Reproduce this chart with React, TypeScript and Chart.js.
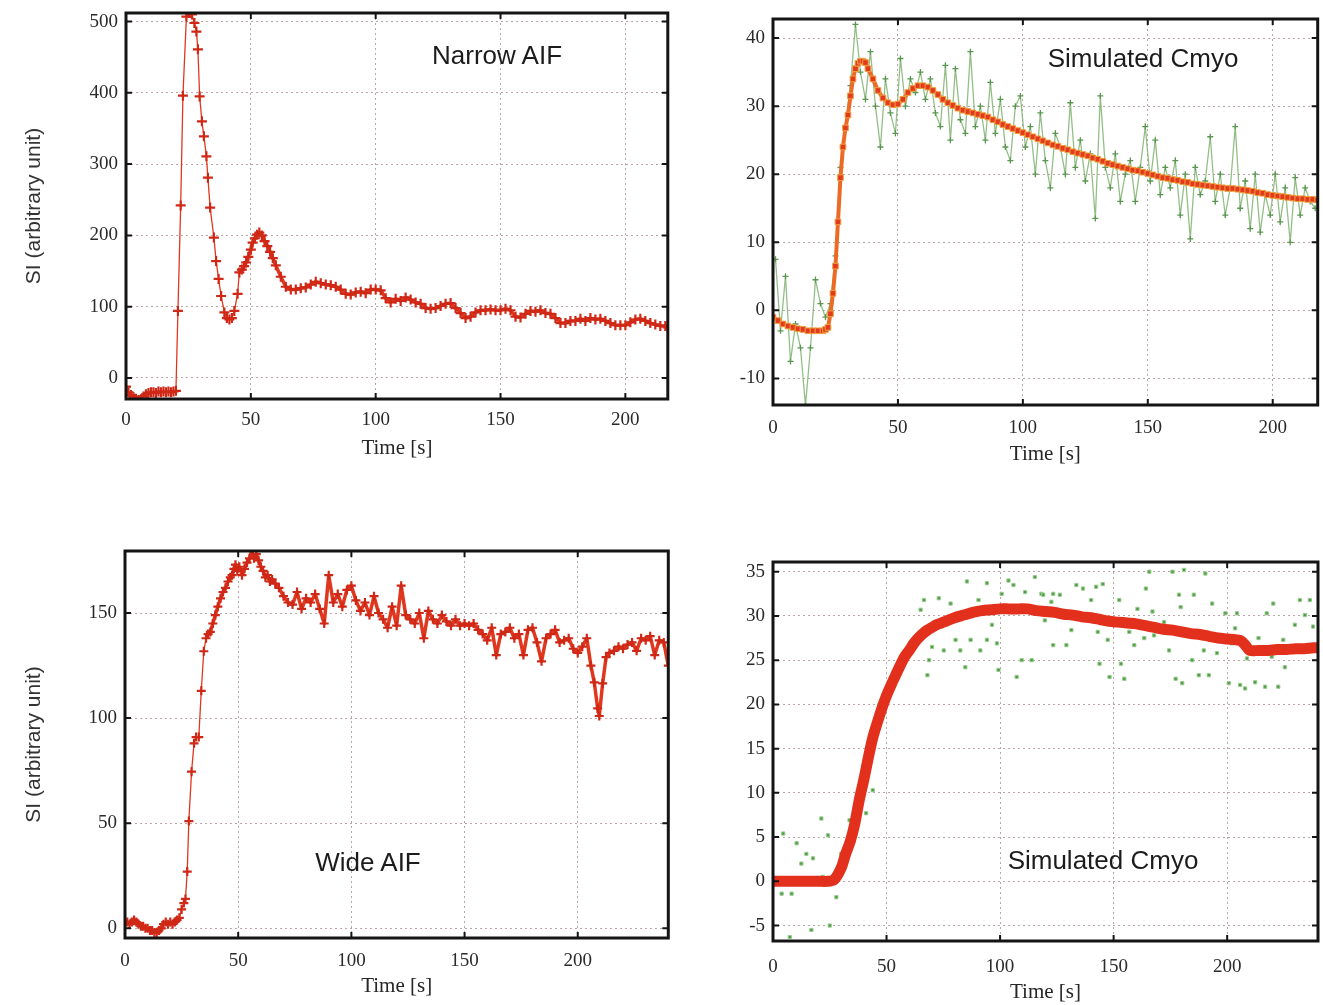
import React, { useEffect, useRef } from "react";
import { Chart, registerables } from "chart.js";

Chart.register(...registerables);

// ---------------- Data ----------------
// Panel 1: Narrow AIF
const P1_T = [0,1,2,3,4,5,6,7,8,9,10,11,12,13,14,15,16,17,18,19,20,
  20.8,21.9,22.8,24.2,25.3,26.4,27.4,28.2,28.8,29.5,30.4,31.2,32.2,32.8,33.7,35.2,36.1,37.1,38.1,39.4,
  40.4,41.4,42.4,43.4,44.7,45.4,46.4,47.3,48.1,49,50,50.7,51.6,52.5,53.4,54.4,55.5,56.6,57.7,58.8,
  60,62,64,66,68,70,72,74,76,78,80,82,84,86,88,90,92,94,96,98,100,102,104,106,108,110,112,114,116,118,
  120,122,124,126,128,130,132,134,136,138,140,142,144,146,148,150,152,154,156,158,160,162,164,166,168,
  170,172,174,176,178,180,182,184,186,188,190,192,194,196,198,200,202,204,206,208,210,212,214,216,217];
const P1_V = [-12,-20,-24,-27,-29,-31,-30,-26,-23,-21,-20,-20,-21,-19,-20,-19,-20,-19,-20,-19,-18,
  94,242,396,507,512,510,498,486,461,395,360,339,311,281,239,197,164,139,115,92,
  84,82,84,94,118,148,152,157,162,170,180,190,196,201,204,200,192,185,177,168,
  158,142,128,124,124,126,127,131,135,133,131,130,128,124,118,117,120,121,119,124,
  124,123,112,106,111,108,113,110,106,104,98,97,98,101,104,105,98,91,84,86,
  92,95,95,96,95,95,97,95,86,85,90,94,93,95,91,90,84,77,77,80,
  80,83,80,84,82,83,80,77,74,74,74,78,82,83,80,77,75,73,73,71];

// Panel 2: Simulated Cmyo (narrow) - model (red) and noisy (green)
const P2_RED_T = [0,2,4,6,8,10,12,14,16,18,20,21,22,23,24,25,26,27,28,29,30,31,32,33,34,35,36,37,38,
  40,42,44,46,48,50,52,54,56,58,60,62,64,66,68,70,72,74,76,78,80,82,84,86,88,90,92,94,96,98,
  100,102,104,106,108,110,112,114,116,118,120,122,124,126,128,130,132,134,136,138,140,142,144,146,148,
  150,152,154,156,158,160,162,164,166,168,170,172,174,176,178,180,182,184,186,188,190,192,194,196,198,
  200,202,204,206,208,210,212,214,216,218];
const P2_RED_V = [-1,-1.5,-2,-2.3,-2.5,-2.7,-2.8,-3,-3,-3,-3,-2.8,-2.5,-0.5,2.5,6.5,13,19.5,24,26.8,28.7,31.5,34,35.5,36.3,36.6,36.6,36.4,35.5,
  34,32.3,31.2,30.5,30.2,30.3,31,32,32.6,33,33,32.8,32.3,31.7,31,30.5,30.1,29.7,29.4,29.2,29,28.8,28.6,28.4,28,27.7,27.3,27,26.7,26.4,
  26.1,25.8,25.5,25.2,24.9,24.6,24.3,24.1,23.8,23.6,23.3,23.1,22.9,22.7,22.4,22.2,21.9,21.6,21.4,21.2,21,20.8,20.6,20.5,20.3,
  20.1,19.9,19.7,19.5,19.4,19.2,19.1,18.9,18.8,18.6,18.5,18.4,18.3,18.2,18.1,18,17.9,17.9,17.8,17.7,17.6,17.5,17.3,17.2,17,
  16.9,16.8,16.7,16.6,16.5,16.4,16.4,16.3,16.3,16.2];
const P2_GREEN_T = [1,3,5,7,9,11,13,15,17,19,21,23,25,27,29,31,33,35,37,39,41,43,45,47,49,51,53,55,57,59,
  61,63,65,67,69,71,73,75,77,79,81,83,85,87,89,91,93,95,97,99,101,103,105,107,109,111,113,115,117,119,
  121,123,125,127,129,131,133,135,137,139,141,143,145,147,149,151,153,155,157,159,161,163,165,167,169,
  171,173,175,177,179,181,183,185,187,189,191,193,195,197,199,201,203,205,207,209,211,213,215,217];
const P2_GREEN_V = [7.5,-3,5,-7.5,-2,-5.5,-14,-5.5,4.5,1,-1,1,8,21,27,33,42,35,31,38,
  30,24,34,29,26,37,30,34,32,35,31,34,29,27,36,25,35.5,28,26,38,
  27,30,25,33.5,26,31,24,22,30,31.5,24,27,20,29,22,18,26,24,20,30.5,
  21,25,19,23,13.5,31.5,21,18,23,16,20,22,16,21,27,19,25,17,21,18,
  22,14,20,10.5,21,17,19,25.5,16,20,14,18,27,15,19,12,20,11.5,17,14,
  20,13,18,10,19.5,14,18,16,15];

// Panel 3: Wide AIF
const P3_T = [0,1,2,3,4,5,6,7,8,9,10,11,12,13,14,15,16,17,18,19,20,21,22,23,24,25,26,
  26.7,27.5,28.2,29.4,30.5,31.4,32.6,33.7,34.8,35.8,36.7,37.7,38.8,39.9,41,42.2,43.3,44.4,45.5,46.5,
  47.3,48.1,48.8,49.6,50.5,51.7,52.8,53.9,55,56,57,58,59,60,61,62,63,64,65,66.4,
  68,70,72,74,76,78,80,82,84,86,88,90,92,94,96,98,100,102,104,106,108,110,112,114,116,118,120,122,124,126,
  128,130,132,134,136,138,140,142,144,146,148,150,152,154,156,158,160,162,164,166,168,170,172,174,176,178,
  180,182,184,186,188,190,192,194,196,198,200,202,204,205.8,207.3,208.8,209.5,211,212.5,
  214,216,218,220,222,224,226,228,230,232,234,236,238,240];
const P3_V = [2,3,2,3,4,3,2,1,1,0,0,-1,-1,-2,-2,-1,0,2,3,2,3,2,3,4,5,9,12,
  14,27,51,74.5,88,91,91,113,131.8,138,140,141,145,149,153,157,160,162,165,167,
  168,171,173,170,172,168,171,174,176,179.5,176,178,175,172,170,167,168,165,166,164,
  162,158,155,154,160,152,157,155,159,152,145,168,155,159,153,161,163,156,151,155,149,158,150,147,143,153,144,163,149,147,
  145,150,138,151,147,145,149,146,144,147,144,145,144,145,142,140,137,143,130,140,141,143,138,140,130,142,
  143,136,127,138,140,142,136,137,138,133,131,134,138,125,117,104.6,101,116.5,129,
  131,132,134,133,135,136,132,138,137,139,130,137,136,125];

// Panel 4: Simulated Cmyo (wide) - model (red band) and noisy samples (green)
const P4_RED_T = [0,4,8,12,16,20,24,27,30,32,34,36,38,40,42,44,46,48,50,52,54,56,58,60,62,64,66,68,70,72,74,76,
  80,84,88,92,96,100,104,108,112,116,120,124,128,132,136,140,144,148,152,156,160,164,168,172,176,180,184,188,192,196,200,204,
  206,208,210,214,218,222,226,230,234,238,240];
const P4_RED_V = [0,0,0,0,0,0,0,0.2,1.5,3.1,4.5,6.5,9.2,11.5,14,16.3,18,19.6,21,22.2,23.3,24.4,25.4,26.1,26.9,27.5,28,28.4,28.7,29,29.2,29.4,
  29.8,30.1,30.4,30.6,30.7,30.8,30.8,30.8,30.8,30.6,30.5,30.4,30.2,30.1,29.9,29.8,29.6,29.4,29.3,29.2,29.1,28.9,28.7,28.5,28.4,28.2,28,27.9,27.7,27.5,27.4,27.3,
  27.2,26.7,26.1,26.1,26.1,26.2,26.2,26.3,26.3,26.4,26.4];
const P4_GREEN_T = [3.8,4.5,7.4,8.2,10.4,12.5,14.7,16.9,17.6,21.3,22,24.2,25,27.9,30,33.7,37.3,41,43.9,46.8,49,52.6,57,60,65,66.5,68,68.7,70,73,
  75.2,78.2,80.4,82.5,84.7,85.4,87,90.5,91.3,94.2,94.2,96.4,98.6,99.3,100.7,103.7,105.9,107.3,109.5,111,113.9,115.3,118.2,119,119.7,122.6,123.4,123.4,126.3,129.2,
  131.4,133.6,136.5,140.1,142.3,143,143.8,145.2,147.4,148.2,152.5,153.2,154.7,156.9,159.1,160.5,163.5,164.2,165.7,167.1,167.8,172.2,174.4,175.9,177.3,178.8,179.5,180.2,181,184.6,
  185.3,187.5,189.7,190.4,191.9,193.4,195.5,199.2,200.7,202.1,203.5,204.3,205.7,207.9,208.7,212.3,213.8,216.7,217.4,219.6,220.3,222.5,224.7,225.4,229.8,232,234.2,236.4,237.8];
const P4_GREEN_V = [-1.4,5.4,-6.3,-1.4,4.3,2,3.1,-5.5,2.6,7.1,0.5,5.2,-5,-1.8,3.1,6.9,8,7.7,10.3,19.9,19.7,23.1,25.2,25.8,30.7,31.8,23.3,25,26.5,32,
  26.1,31.4,27.3,26.1,24.2,33.9,27.3,31.8,26.1,33.7,27.3,29,26.9,23.9,32.5,34,33.5,23.1,25,32.7,25,34.4,32.5,32.4,29.5,31.6,32.5,26.7,32.4,26.7,
  28.4,33.5,33.1,31.8,33.3,28.2,24.6,33.6,27.3,23.1,31.8,24.6,22.9,28.2,26.7,30.8,27.5,33.1,35,30.5,27.8,29.3,26.1,35,22.9,32.4,31,22.4,35.2,25,
  32.4,23.3,26.1,34.8,23.3,31.4,25.8,30.3,22.4,26.9,28.6,30.3,22.2,21.8,25.2,22.5,27.5,22,30.3,25.4,31.4,22,27.3,24.2,29,31.8,30.1,31.8,28.8];

// Tick values
const X_TICKS_TOP = [0, 50, 100, 150, 200];
const X_TICKS_BOTTOM = [0, 50, 100, 150, 200];
const Y_TICKS_P1 = [0, 100, 200, 300, 400, 500];
const Y_TICKS_P2 = [-10, 0, 10, 20, 30, 40];
const Y_TICKS_P3 = [0, 50, 100, 150];
const Y_TICKS_P4 = [-5, 0, 5, 10, 15, 20, 25, 30, 35];

const Y_TITLE = "SI (arbitrary unit)";
const X_TITLE = "Time [s]";

// ---------------- Helpers ----------------
const pts = (t: number[], v: number[]) => {
  const n = Math.min(t.length, v.length);
  const out: { x: number; y: number }[] = [];
  for (let i = 0; i < n; i++) out.push({ x: t[i], y: v[i] });
  return out;
};

const framePlugin = {
  id: "frame",
  afterDraw(chart: any) {
    const { ctx, chartArea: a, scales } = chart;
    ctx.save();
    ctx.setLineDash([]);
    ctx.strokeStyle = "#141414";
    ctx.lineWidth = 2;
    const L = 6;
    scales.x.ticks.forEach((t: any) => {
      const x = scales.x.getPixelForValue(t.value);
      ctx.beginPath();
      ctx.moveTo(x, a.bottom);
      ctx.lineTo(x, a.bottom - L);
      ctx.moveTo(x, a.top);
      ctx.lineTo(x, a.top + L);
      ctx.stroke();
    });
    scales.y.ticks.forEach((t: any) => {
      const y = scales.y.getPixelForValue(t.value);
      ctx.beginPath();
      ctx.moveTo(a.left, y);
      ctx.lineTo(a.left + L, y);
      ctx.moveTo(a.right, y);
      ctx.lineTo(a.right - L, y);
      ctx.stroke();
    });
    ctx.lineWidth = 3;
    ctx.strokeRect(a.left, a.top, a.right - a.left, a.bottom - a.top);
    ctx.restore();
  },
};

type PanelCfg = {
  plot: { l: number; t: number; r: number; b: number };
  yw: number;
  xh: number;
  xRange: [number, number];
  yRange: [number, number];
  xTicks: number[];
  yTicks: number[];
  yTitle?: string;
  yTitlePad: number;
  xLabelPad: number;
  xTitlePad: number;
  datasets: any[];
};

const PT = 24;
const PR = 4;

// thin line where samples are sparse and steep, thick band where the curve is dense
const redCross = (t: number[], v: number[], denseFrom: number, radius: number) => ({
  data: pts(t, v),
  borderColor: "#e0371f",
  borderWidth: 1.3,
  borderJoinStyle: "round",
  borderCapStyle: "round",
  segment: {
    borderWidth: (c: any) => (c.p0.parsed.x >= denseFrom ? 3.5 : 1.3),
  },
  pointStyle: "cross",
  pointRadius: radius,
  pointBorderColor: "#cf2816",
  pointBorderWidth: 2.2,
  pointBackgroundColor: "#cf2816",
  tension: 0,
  clip: 0,
});

const PANELS: PanelCfg[] = [
  {
    plot: { l: 126, t: 13, r: 671, b: 399 },
    yw: 110, xh: 66,
    xRange: [0, 217], yRange: [-29.5, 512],
    xTicks: X_TICKS_TOP, yTicks: Y_TICKS_P1,
    yTitle: Y_TITLE, yTitlePad: 6, xLabelPad: 10, xTitlePad: 4,
    datasets: [redCross(P1_T, P1_V, 45, 5)],
  },
  {
    plot: { l: 773, t: 19, r: 1319, b: 405 },
    yw: 70, xh: 66,
    xRange: [0, 218], yRange: [-13.9, 42.8],
    xTicks: X_TICKS_TOP, yTicks: Y_TICKS_P2,
    yTitlePad: 0, xLabelPad: 12, xTitlePad: 4,
    datasets: [
      {
        data: pts(P2_RED_T, P2_RED_V),
        borderColor: "#ec6a24",
        borderWidth: 4,
        pointStyle: "rect",
        pointRadius: 4,
        pointBackgroundColor: "#e23a1c",
        pointBorderColor: "#f0a040",
        pointBorderWidth: 1,
        clip: 0,
      },
      {
        data: pts(P2_GREEN_T, P2_GREEN_V),
        borderColor: "rgba(120,175,105,0.8)",
        borderWidth: 1.3,
        pointStyle: "cross",
        pointRadius: 3,
        pointBorderColor: "#5a9650",
        pointBorderWidth: 1.3,
        clip: 0,
      },
    ],
  },
  {
    plot: { l: 125, t: 551, r: 671, b: 938 },
    yw: 109, xh: 66,
    xRange: [0, 240], yRange: [-4.6, 179.5],
    xTicks: X_TICKS_BOTTOM, yTicks: Y_TICKS_P3,
    yTitle: Y_TITLE, yTitlePad: 6, xLabelPad: 12, xTitlePad: 5,
    datasets: [redCross(P3_T, P3_V, 36, 4.5)],
  },
  {
    plot: { l: 773, t: 562, r: 1319, b: 941 },
    yw: 70, xh: 64,
    xRange: [0, 240], yRange: [-6.75, 36.1],
    xTicks: X_TICKS_BOTTOM, yTicks: Y_TICKS_P4,
    yTitlePad: 0, xLabelPad: 15, xTitlePad: 0,
    datasets: [
      {
        data: pts(P4_RED_T, P4_RED_V),
        borderColor: "#e2301c",
        borderWidth: 11,
        pointRadius: 0,
        tension: 0.3,
        clip: 0,
      },
      {
        data: pts(P4_GREEN_T, P4_GREEN_V),
        showLine: false,
        pointStyle: "rect",
        pointRadius: 2.3,
        pointBackgroundColor: "#4d9a47",
        pointBorderColor: "#9ccc90",
        pointBorderWidth: 1,
        clip: 0,
      },
    ],
  },
];

const TICK_FONT = { family: "'Liberation Serif', 'DejaVu Serif', serif", size: 19 };
const GRID = { color: "#bba6a6", lineWidth: 1, drawTicks: false };
const BORDER = { display: false, dash: [2, 3] };

function PanelChart({ cfg }: { cfg: PanelCfg }) {
  const ref = useRef<HTMLCanvasElement | null>(null);
  const { plot, yw, xh } = cfg;
  const left = plot.l - yw;
  const top = plot.t - PT;
  const width = plot.r - plot.l + yw + PR;
  const height = plot.b - plot.t + PT + xh;

  useEffect(() => {
    if (!ref.current) return;
    const chart = new Chart(ref.current, {
      type: "line",
      data: { datasets: cfg.datasets },
      plugins: [framePlugin],
      options: {
        animation: false,
        responsive: false,
        devicePixelRatio: 1,
        layout: { padding: { top: PT, right: PR, left: 0, bottom: 0 } },
        plugins: { legend: { display: false }, tooltip: { enabled: false } },
        scales: {
          x: {
            type: "linear",
            min: cfg.xRange[0],
            max: cfg.xRange[1],
            afterBuildTicks: (s: any) => {
              s.ticks = cfg.xTicks.map((v) => ({ value: v }));
            },
            afterFit: (s: any) => {
              s.height = xh;
            },
            ticks: { font: TICK_FONT, color: "#2a2a2a", padding: cfg.xLabelPad, maxRotation: 0, autoSkip: false },
            grid: GRID,
            border: BORDER,
            title: {
              display: true,
              text: X_TITLE,
              font: { family: "'Liberation Serif', 'DejaVu Serif', serif", size: 21 },
              color: "#262626",
              padding: { top: 0, bottom: cfg.xTitlePad },
            },
          },
          y: {
            type: "linear",
            min: cfg.yRange[0],
            max: cfg.yRange[1],
            afterBuildTicks: (s: any) => {
              s.ticks = cfg.yTicks.map((v) => ({ value: v }));
            },
            afterFit: (s: any) => {
              s.width = yw;
            },
            ticks: { font: TICK_FONT, color: "#2a2a2a", padding: 8, autoSkip: false },
            grid: GRID,
            border: BORDER,
            title: {
              display: !!cfg.yTitle,
              text: cfg.yTitle || "",
              font: { family: "'Liberation Sans', Arial, sans-serif", size: 21 },
              color: "#333",
              padding: { top: cfg.yTitlePad, bottom: 0 },
            },
          },
        },
      } as any,
    });
    return () => chart.destroy();
  }, []);

  return (
    <canvas
      ref={ref}
      width={width}
      height={height}
      style={{ position: "absolute", left, top, width, height }}
    />
  );
}

const NOTES = [
  { text: "Narrow AIF", x: 497, y: 55 },
  { text: "Simulated Cmyo", x: 1143, y: 58 },
  { text: "Wide AIF", x: 368, y: 862 },
  { text: "Simulated Cmyo", x: 1103, y: 860 },
];

export default function App() {
  return (
    <div
      style={{
        position: "absolute",
        left: 0,
        top: 0,
        width: 1323,
        height: 1005,
        overflow: "hidden",
        background: "#fff",
      }}
    >
      {PANELS.map((p, i) => (
        <PanelChart key={i} cfg={p} />
      ))}
      {NOTES.map((n, i) => (
        <div
          key={i}
          style={{
            position: "absolute",
            left: n.x,
            top: n.y,
            transform: "translate(-50%, -50%)",
            fontFamily: "'Liberation Sans', Arial, sans-serif",
            fontSize: 26,
            color: "#1c1c1c",
            whiteSpace: "nowrap",
            lineHeight: 1,
          }}
        >
          {n.text}
        </div>
      ))}
    </div>
  );
}
